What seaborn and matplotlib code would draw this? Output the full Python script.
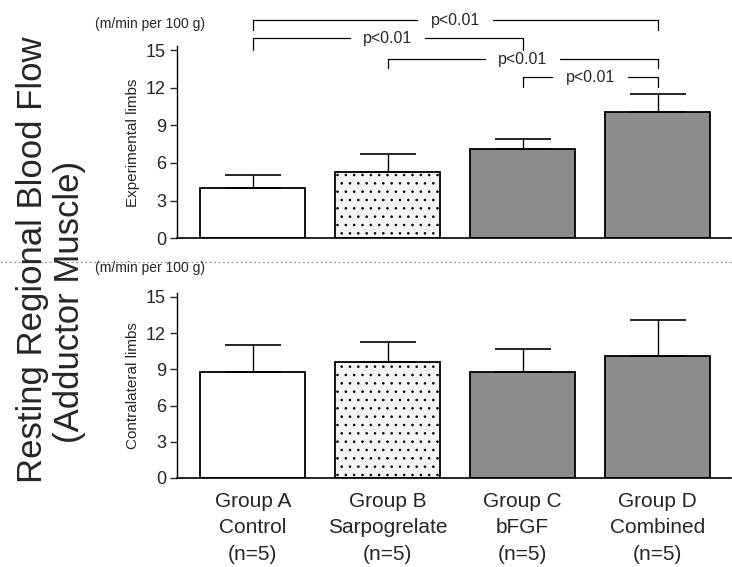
import matplotlib
matplotlib.use("Agg")
import matplotlib.pyplot as plt
import seaborn as sns
import pandas as pd
from matplotlib.lines import Line2D

groups = ["Group A\nControl\n(n=5)", "Group B\nSarpogrelate\n(n=5)",
          "Group C\nbFGF\n(n=5)", "Group D\nCombined\n(n=5)"]
exp_mean = [4.0, 5.3, 7.1, 10.1]
exp_err = [1.05, 1.4, 0.8, 1.4]
con_mean = [8.8, 9.6, 8.8, 10.1]
con_err = [2.2, 1.7, 1.9, 3.0]
yticks = [0, 3, 6, 9, 12, 15]
# significance brackets: (left group, right group, bracket height, leg end)
brackets = [(0, 3, 17.4, 16.65), (0, 2, 15.95, 15.0),
            (1, 3, 14.3, 13.55), (2, 3, 12.85, 12.1)]
sig_label = "p<0.01"

sns.set_theme(style="white")
plt.rcParams['font.family'] = ['Liberation Sans', 'DejaVu Sans']
plt.rcParams['hatch.color'] = '#444444'
plt.rcParams['hatch.linewidth'] = 0.6

fig = plt.figure(figsize=(7.32, 5.67), dpi=100)
ax1 = fig.add_axes([0.242, 0.580, 0.756, 0.338])
ax2 = fig.add_axes([0.242, 0.157, 0.756, 0.3256])

fills = ["white", "#f4f4f4", "#8c8c8c", "#8c8c8c"]
hatches = [None, "..", None, None]

def draw(ax, means, errs, ylabel):
    df = pd.DataFrame({"g": groups, "v": means})
    sns.barplot(data=df, x="g", y="v", ax=ax, width=0.78, color="white",
                edgecolor="black", linewidth=1.3, errorbar=None)
    for p, fc, h in zip(ax.patches, fills, hatches):
        p.set_facecolor(fc)
        if h:
            p.set_hatch(h)
    ax.errorbar(range(len(means)), means, yerr=[[0]*len(errs), errs], fmt="none",
                ecolor="black", elinewidth=1.0, capsize=20, capthick=1.2)
    ax.set_xlim(-0.56, 3.54)
    ax.set_ylim(0, 15.3)
    ax.set_yticks(yticks)
    ax.set_yticklabels([str(t) for t in yticks], fontsize=13)
    ax.set_ylabel(ylabel, fontsize=11, labelpad=4)
    ax.set_xlabel("")
    for s in ["top", "right"]:
        ax.spines[s].set_visible(False)
    ax.spines["left"].set_linewidth(1.0)
    ax.spines["bottom"].set_linewidth(1.2)
    ax.spines["left"].set_color("black")
    ax.spines["bottom"].set_color("black")
    ax.tick_params(axis="y", direction="out", length=5, width=1, left=True, pad=3)
    ax.tick_params(axis="x", length=0, pad=10)

draw(ax1, exp_mean, exp_err, "Experimental limbs")
draw(ax2, con_mean, con_err, "Contralateral limbs")
ax1.set_xticklabels([])
ax2.set_xticklabels(groups, fontsize=15, linespacing=1.5)

gap = 0.28
for (i, j, h, leg) in brackets:
    c = (i + j) / 2
    ax1.plot([i, i, c - gap], [leg, h, h], color="black", lw=0.9, clip_on=False)
    ax1.plot([c + gap, j, j], [h, h, leg], color="black", lw=0.9, clip_on=False)
    ax1.text(c, h, sig_label, ha="center", va="center", fontsize=11.5, clip_on=False)

fig.text(0.13, 0.958, "(m/min per 100 g)", fontsize=10, ha="left", va="center")
fig.text(0.13, 0.528, "(m/min per 100 g)", fontsize=10, ha="left", va="center")
fig.add_artist(Line2D([0, 1], [0.538, 0.538], transform=fig.transFigure,
                      color="#999999", lw=0.8, ls=(0, (2, 2))))
fig.text(33 / 732, 1 - 260 / 567, "Resting Regional Blood Flow", rotation=90,
         fontsize=25, ha="center", va="center")
fig.text(70 / 732, 1 - 302 / 567, "(Adductor Muscle)", rotation=90,
         fontsize=25, ha="center", va="center")

fig.savefig("out.png", dpi=100)
